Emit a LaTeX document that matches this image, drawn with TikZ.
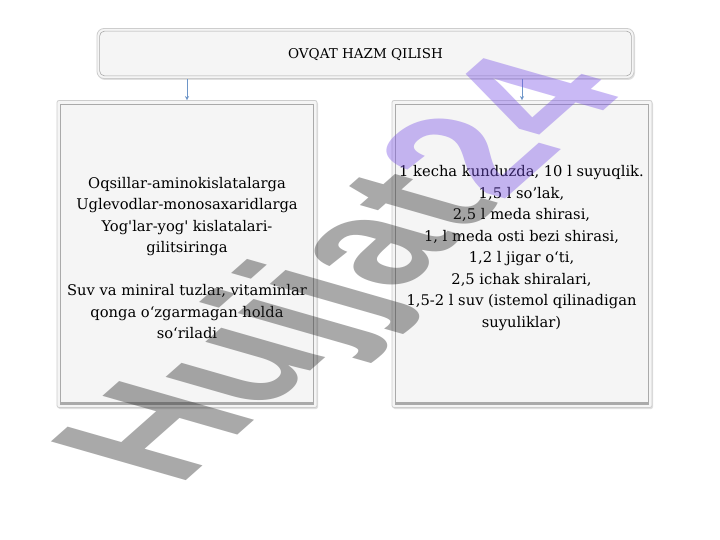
\documentclass[tikz,border=0pt]{standalone}
\usepackage{fontspec}
\setmainfont{DejaVu Serif}
\newfontfamily\wmfont{Liberation Sans}
\usetikzlibrary{arrows.meta,shadows}
\definecolor{boxfill}{RGB}{245,245,245}
\definecolor{boxline}{RGB}{205,205,205}
\definecolor{innerline}{RGB}{170,170,170}
\definecolor{arrowcol}{RGB}{110,150,200}
\definecolor{wmgray}{RGB}{40,40,40}
\definecolor{wmpurple}{RGB}{120,80,230}
\tikzset{
  topbox/.style={draw=boxline, line width=0.8pt, fill=boxfill, rounded corners=7pt,
    minimum width=537pt, minimum height=50pt, inner sep=0pt,
    drop shadow={opacity=0.25, shadow xshift=1pt, shadow yshift=-1.5pt}},
  lowbox/.style={draw=boxline, line width=0.8pt, fill=boxfill, rounded corners=2pt,
    minimum width=260pt, minimum height=307pt, inner sep=0pt,
    drop shadow={opacity=0.25, shadow xshift=1pt, shadow yshift=-1.5pt}},
  titletext/.style={inner sep=0pt, font=\fontsize{13.5}{16}\selectfont},
  bodytext/.style={align=center, inner sep=0pt, font=\fontsize{14.7}{21.5}\selectfont},
  conn/.style={draw=arrowcol, line width=0.5pt, -{Stealth[length=4pt,width=4pt]}},
  bevel/.style={draw=innerline, line width=0.6pt},
}
\begin{document}
\begin{tikzpicture}[x=1pt,y=-1pt]
\useasboundingbox (0,0) rectangle (720,540);
\fill[white] (0,0) rectangle (720,540);

\node[topbox] (top) at (365.5,53.5) {};
\draw[bevel, rounded corners=5pt] ([xshift=3pt,yshift=-3pt]top.north west) rectangle ([xshift=-3pt,yshift=3pt]top.south east);
\node[titletext] (toptext) at (365.5,55) {OVQAT HAZM QILISH};

\node[lowbox] (left) at (187,254) {};
\draw[bevel] ([xshift=4pt,yshift=-4pt]left.north west) rectangle ([xshift=-4pt,yshift=4pt]left.south east);
\draw[innerline, line width=1.4pt] ([xshift=4pt,yshift=5pt]left.south west) -- ([xshift=-4pt,yshift=5pt]left.south east);

\node[lowbox] (right) at (522,254) {};
\draw[bevel] ([xshift=4pt,yshift=-4pt]right.north west) rectangle ([xshift=-4pt,yshift=4pt]right.south east);
\draw[innerline, line width=1.4pt] ([xshift=4pt,yshift=5pt]right.south west) -- ([xshift=-4pt,yshift=5pt]right.south east);

\node[bodytext] (lefttext) at (187,258) {Oqsillar-aminokislatalarga\\Uglevodlar-monosaxaridlarga\\Yog\textquotesingle lar-yog\textquotesingle{} kislatalari-\\gilitsiringa\\[21.5pt]Suv va miniral tuzlar, vitaminlar\\qonga o‘zgarmagan holda\\so‘riladi};

\node[bodytext] (righttext) at (521.5,248) {1 kecha kunduzda, 10 l suyuqlik.\\1,5 l so’lak,\\2,5 l meda shirasi,\\1, l meda osti bezi shirasi,\\1,2 l jigar o‘ti,\\2,5 ichak shiralari,\\1,5-2 l suv (istemol qilinadigan\\suyuliklar)};

\draw[conn] (left.north |- top.south) -- (left.north);
\draw[conn] (right.north |- top.south) -- (right.north);

\begin{scope}[shift={(178.5,487.5)}, cm={1.161,1.027,-1.961,0.563,(0,0)}]
\node[transform shape, anchor=base west, inner sep=0pt, text opacity=0.4,
  font=\wmfont\bfseries\fontsize{100}{100}\selectfont] (wm) at (0,0)
  {\textcolor{wmgray}{Hujjat}\textcolor{wmpurple}{24}};
\end{scope}
\end{tikzpicture}
\end{document}
